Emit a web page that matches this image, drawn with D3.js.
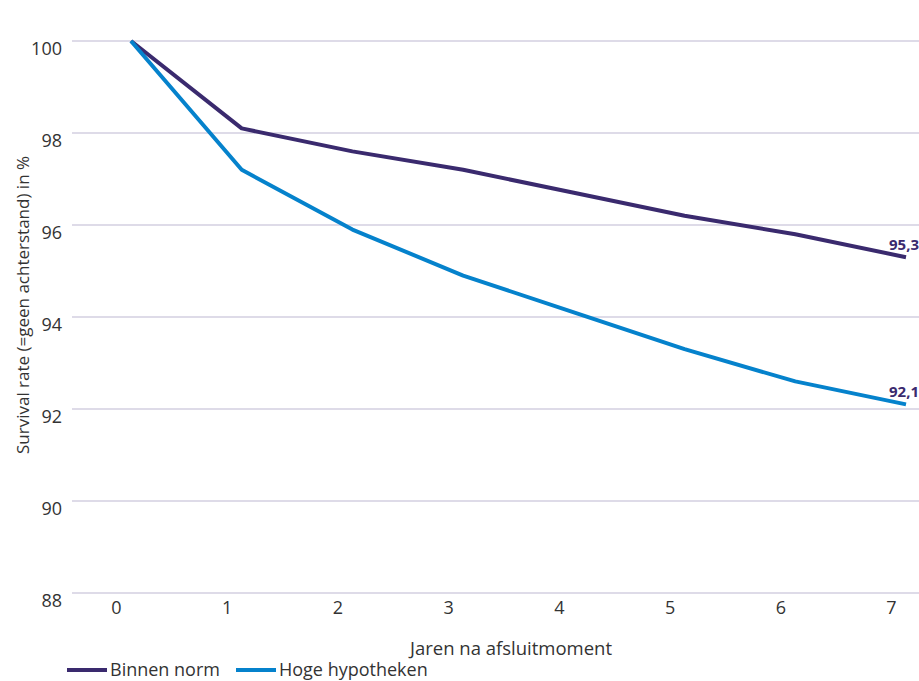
<!DOCTYPE html>
<html>
<head>
<meta charset="utf-8">
<script src="https://cdn.jsdelivr.net/npm/d3@7"></script>
<style>
  html, body { margin: 0; padding: 0; background: #fff; }
  svg { display: block; font-family: "Open Sans", sans-serif; }
</style>
</head>
<body>
<svg id="chart" width="919" height="681"></svg>
<script>
// Survival rate per year after closing, two mortgage groups
const years = [0, 1, 2, 3, 4, 5, 6, 7];
const binnenNorm = [100, 98.1, 97.6, 97.2, 96.7, 96.2, 95.8, 95.3];
const hogeHypotheken = [100, 97.2, 95.9, 94.9, 94.1, 93.3, 92.6, 92.1];
const yTicks = [88, 90, 92, 94, 96, 98, 100];
const seriesNames = ["Binnen norm", "Hoge hypotheken"];
const seriesColors = ["#3a2a6e", "#0582cc"];

const font = "'Open Sans', sans-serif";
const textColor = "#333";

const svg = d3.select("#chart");

const x = d3.scaleLinear().domain([0, 7]).range([131, 906]);
const y = d3.scaleLinear().domain([88, 100]).range([593, 41]);

// horizontal gridlines
svg.append("g")
  .selectAll("line")
  .data(yTicks)
  .join("line")
  .attr("x1", 72).attr("x2", 919)
  .attr("y1", d => y(d)).attr("y2", d => y(d))
  .attr("stroke", "#d3cfe0").attr("stroke-width", 1.3);

// y axis labels
const yAxis = svg.append("g")
  .attr("transform", "translate(62,8)")
  .call(d3.axisLeft(y).tickValues(yTicks).tickSize(0).tickPadding(0));
yAxis.select(".domain").remove();
yAxis.selectAll("text")
  .attr("font-family", font)
  .attr("font-size", 18).attr("fill", textColor);

// x axis labels (set left of the data points)
const xAxis = svg.append("g")
  .attr("transform", "translate(-15,601)")
  .call(d3.axisBottom(x).tickValues(years).tickSize(0).tickPadding(0).tickFormat(d3.format("d")));
xAxis.select(".domain").remove();
xAxis.selectAll("text")
  .attr("font-family", font)
  .attr("font-size", 18).attr("fill", textColor);

// axis titles
svg.append("text")
  .attr("x", 511).attr("y", 655)
  .attr("text-anchor", "middle")
  .attr("font-size", 18.5).attr("fill", textColor)
  .text("Jaren na afsluitmoment");

svg.append("text")
  .attr("transform", "translate(29,305) rotate(-90)")
  .attr("text-anchor", "middle")
  .attr("font-size", 17).attr("fill", textColor)
  .text("Survival rate (=geen achterstand) in %");

// lines
const line = d3.line().x((d, i) => x(years[i])).y(d => y(d));
[binnenNorm, hogeHypotheken].forEach((vals, k) => {
  svg.append("path")
    .datum(vals)
    .attr("fill", "none")
    .attr("stroke", seriesColors[k])
    .attr("stroke-width", 4)
    .attr("stroke-linejoin", "round")
    .attr("d", line);
});

// end value labels
[binnenNorm, hogeHypotheken].forEach((vals, k) => {
  const v = vals[vals.length - 1];
  svg.append("text")
    .attr("x", 919).attr("y", y(v) - 7)
    .attr("text-anchor", "end")
    .attr("font-size", 15).attr("font-weight", "bold")
    .attr("fill", "#3a2a6e")
    .text(d3.format(".1f")(v).replace(".", ","));
});

// legend
const legend = svg.append("g");
const legendX = [67, 236];
seriesNames.forEach((name, k) => {
  legend.append("line")
    .attr("x1", legendX[k]).attr("x2", legendX[k] + 40)
    .attr("y1", 670).attr("y2", 670)
    .attr("stroke", seriesColors[k]).attr("stroke-width", 4);
  legend.append("text")
    .attr("x", legendX[k] + 43).attr("y", 676)
    .attr("font-size", 18).attr("fill", textColor)
    .text(name);
});
</script>
</body>
</html>
